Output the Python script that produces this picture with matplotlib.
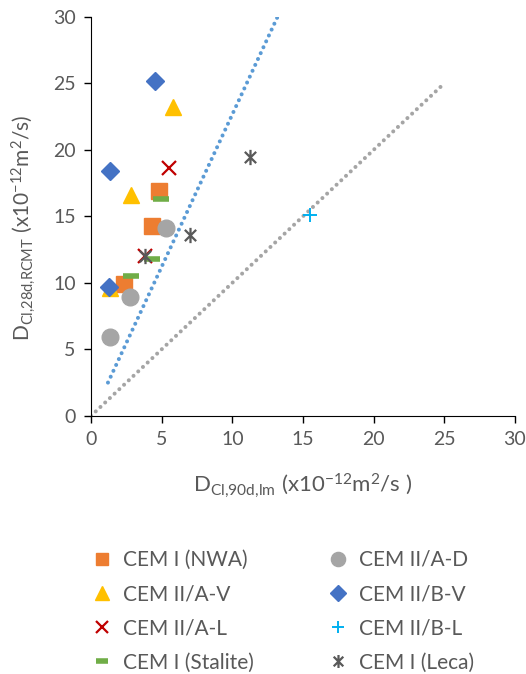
import matplotlib.pyplot as plt
from matplotlib.path import Path

plt.rcParams['font.family'] = ['Lato', 'DejaVu Sans']
plt.rcParams['mathtext.fontset'] = 'custom'
plt.rcParams['mathtext.rm'] = 'Lato'
plt.rcParams['mathtext.it'] = 'Lato'

# data (x = D_Cl,90d,lm, y = D_Cl,28d,RCMT)
nwa_x = [2.3, 4.3, 4.8]
nwa_y = [9.9, 14.3, 16.9]
ad_x = [1.35, 2.75, 5.3]
ad_y = [5.9, 8.9, 14.1]
av_x = [1.35, 2.8, 5.8]
av_y = [9.6, 16.6, 23.2]
bv_x = [1.25, 1.35, 4.5]
bv_y = [9.7, 18.4, 25.2]
al_x = [3.8, 5.5]
al_y = [12.0, 18.6]
bl_x = [15.5]
bl_y = [15.1]
stal_x = [2.8, 4.3, 4.95]
stal_y = [10.5, 11.8, 16.3]
leca_x = [3.8, 7.0, 11.25]
leca_y = [12.0, 13.6, 19.5]

trend_x = [1.2, 13.2]
trend_y = [2.5, 30.0]
equal_x = [0, 25]
equal_y = [0, 25]

ticks = [0, 5, 10, 15, 20, 25, 30]

# excel-style asterisk: X plus a vertical bar
ast = Path([(-1, -1), (1, 1), (-1, 1), (1, -1), (0, -1.35), (0, 1.35)],
           [Path.MOVETO, Path.LINETO, Path.MOVETO, Path.LINETO, Path.MOVETO, Path.LINETO])

fig = plt.figure(figsize=(5.26, 6.74), dpi=100)
ax = fig.add_axes([0.173, 0.383, 0.806, 0.592])

dots = (0, (0.01, 1.6))
ax.plot(trend_x, trend_y, linestyle=dots, color='#5B9BD5', lw=2.9,
        dash_capstyle='round', zorder=1)
ax.plot(equal_x, equal_y, linestyle=dots, color='#A5A5A5', lw=2.9,
        dash_capstyle='round', zorder=1)

h1, = ax.plot(nwa_x, nwa_y, 's', color='#ED7D31', ms=11, ls='none', label='CEM I (NWA)')
h2, = ax.plot(ad_x, ad_y, 'o', color='#A5A5A5', ms=12, ls='none', label='CEM II/A-D')
h3, = ax.plot(av_x, av_y, '^', color='#FFC000', ms=12, ls='none', label='CEM II/A-V')
h4, = ax.plot(bv_x, bv_y, 'D', color='#4472C4', ms=9.5, ls='none', label='CEM II/B-V')
h5, = ax.plot(al_x, al_y, 'x', color='#C00000', ms=10, mew=1.6, ls='none', label='CEM II/A-L')
h6, = ax.plot(bl_x, bl_y, '+', color='#00B0F0', ms=10, mew=1.4, ls='none', label='CEM II/B-L')
h7, = ax.plot(stal_x, stal_y, '_', color='#70AD47', ms=11, mew=4, ls='none', label='CEM I (Stalite)')
h8, = ax.plot(leca_x, leca_y, marker=ast, color='#595959', ms=11, mew=1.6, ls='none',
              label='CEM I (Leca)')

ax.set_xlim(0, 30)
ax.set_ylim(0, 30)
ax.set_xticks(ticks)
ax.set_yticks(ticks)
ax.spines['top'].set_visible(False)
ax.spines['right'].set_visible(False)
ax.spines['left'].set_color('black')
ax.spines['bottom'].set_color('black')
ax.tick_params(direction='out', length=5, width=1, colors='black',
               labelcolor='#595959', labelsize=14, pad=6)

ax.set_xlabel(r'$\mathrm{D_{Cl{,}90d{,}lm}\ (x10^{-12}m^{2}/s\ )}$', fontsize=16,
              color='#595959', labelpad=17)
ax.set_ylabel(r'$\mathrm{D_{Cl{,}28d{,}RCMT}\ (x10^{-12}m^{2}/s)}$', fontsize=15,
              color='#595959')
ax.yaxis.set_label_coords(-0.125, 0.47)

# legend is filled column-wise, so order handles accordingly
handles = [h1, h3, h5, h7, h2, h4, h6, h8]
fig.legend(handles=handles, labels=[h.get_label() for h in handles], ncol=2,
           loc='upper left', bbox_to_anchor=(0.14, 0.212), frameon=False,
           fontsize=15, labelcolor='#595959', handlelength=0.9, handletextpad=0.55,
           columnspacing=3.6, labelspacing=0.68, markerscale=0.85)

fig.savefig('out.png', dpi=100)
